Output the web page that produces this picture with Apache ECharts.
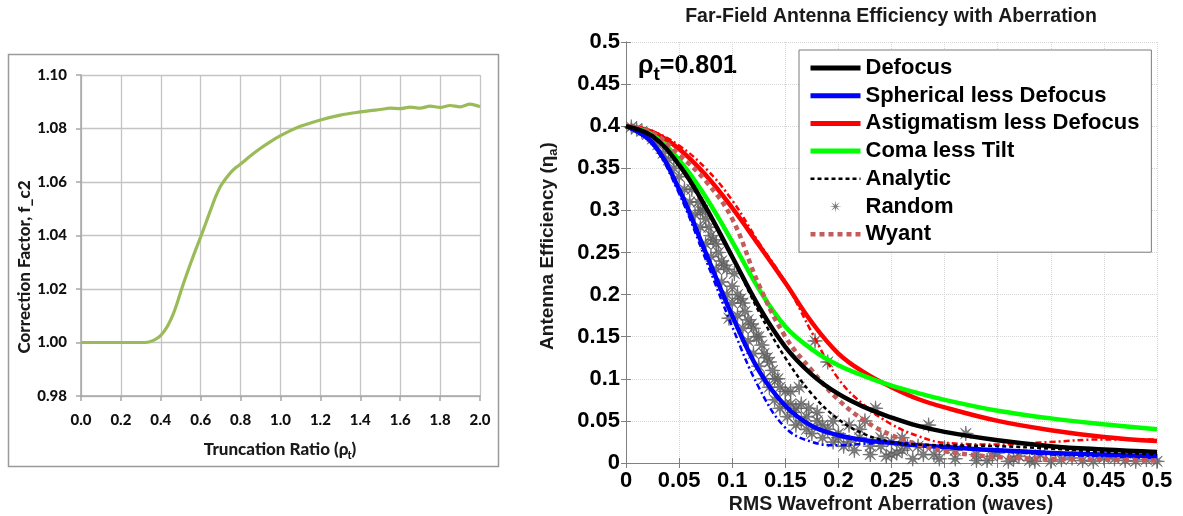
<!DOCTYPE html>
<html><head><meta charset="utf-8">
<script src="https://cdn.jsdelivr.net/npm/echarts@6/dist/echarts.min.js"></script>
<style>html,body{margin:0;padding:0;background:#fff}#c{width:1183px;height:516px}</style>
</head><body><div id="c"></div>
<script>
// ---------- Left panel data ----------
const truncRatio = [0,0.1,0.2,0.3,0.34,0.36,0.38,0.4,0.42,0.44,0.46,0.48,0.5,0.525,0.55,0.575,0.6,0.625,0.65,0.675,0.7,0.725,0.75,0.775,0.8,0.85,0.9,0.95,1.0,1.05,1.1,1.2,1.3,1.4,1.45,1.5,1.55,1.6,1.65,1.7,1.75,1.8,1.85,1.9,1.95,2.0];
const corrFactor = [1.0,1.0,1.0,1.0,1.0002,1.0007,1.0015,1.0027,1.0045,1.007,1.0102,1.0143,1.019,1.0245,1.0297,1.0347,1.0395,1.0445,1.0496,1.0545,1.0585,1.0612,1.0635,1.0653,1.0667,1.0698,1.0726,1.0751,1.0773,1.0792,1.0808,1.0832,1.085,1.0862,1.0867,1.0871,1.0876,1.0874,1.088,1.0876,1.0884,1.0879,1.0886,1.0881,1.0891,1.0881];
const leftXTicks = {min:0, max:2.0, interval:0.2};
const leftYTicks = {min:0.98, max:1.10, interval:0.02};

// ---------- Right panel data ----------
const waves = [0,0.025,0.05,0.075,0.1,0.125,0.15,0.175,0.2,0.225,0.25,0.275,0.3,0.35,0.4,0.45,0.5];
const defocus    = [0.4,0.388,0.354,0.304,0.245,0.186,0.138,0.105,0.082,0.066,0.054,0.044,0.037,0.027,0.02,0.016,0.013];
const spherical  = [0.4,0.38,0.325,0.25,0.175,0.11,0.068,0.044,0.033,0.027,0.024,0.021,0.019,0.015,0.012,0.01,0.008];
const astig      = [0.4,0.393,0.373,0.342,0.303,0.259,0.214,0.167,0.13,0.107,0.09,0.076,0.066,0.05,0.039,0.031,0.026];
const coma       = [0.4,0.39,0.36,0.316,0.263,0.207,0.162,0.135,0.116,0.103,0.092,0.083,0.075,0.062,0.053,0.046,0.04];
const analytic   = [0.4,0.388,0.354,0.304,0.245,0.18,0.125,0.082,0.052,0.034,0.025,0.022,0.021,0.02,0.017,0.013,0.01];
const analyticSph= [0.4,0.378,0.32,0.242,0.162,0.09,0.042,0.025,0.021,0.023,0.024,0.022,0.019,0.014,0.01,0.008,0.006];
const analyticAst= [0.4,0.394,0.377,0.35,0.312,0.262,0.215,0.155,0.1,0.068,0.046,0.032,0.024,0.022,0.025,0.028,0.028];
const wyant      = [0.4,0.392,0.366,0.335,0.29,0.212,0.15,0.11,0.075,0.05,0.033,0.022,0.014,0.007,0.005,0.004,0.003];
const randomX = [0.005,0.01,0.015,0.02,0.025,0.03,0.035,0.04,0.045,0.05,0.055,0.06,0.062,0.065,0.068,0.07,0.072,0.075,0.078,0.08,0.082,0.085,0.087,0.09,0.092,0.095,0.097,0.1,0.102,0.105,0.108,0.11,0.112,0.115,0.118,0.12,0.123,0.125,0.128,0.13,0.133,0.135,0.138,0.14,0.143,0.145,0.15,0.152,0.155,0.158,0.16,0.163,0.165,0.17,0.172,0.175,0.178,0.18,0.185,0.19,0.19,0.195,0.2,0.205,0.21,0.215,0.22,0.225,0.23,0.235,0.24,0.245,0.25,0.255,0.26,0.27,0.275,0.285,0.29,0.3,0.31,0.32,0.33,0.34,0.35,0.36,0.37,0.38,0.39,0.4,0.42,0.44,0.46,0.48,0.5,
  0.07,0.075,0.08,0.085,0.09,0.095,0.1,0.105,0.11,0.115,0.12,0.125,0.13,0.135,0.14,0.145,0.15,0.155,0.16,0.165,0.17,0.18,0.185,0.195,0.2,0.21,0.22,0.23,0.24,0.25,0.26,0.265,0.28,0.295,0.31,0.33,0.345,0.365,0.385,0.41,0.43,0.45,0.47,0.49];
const randomY = [0.399,0.397,0.394,0.39,0.385,0.378,0.368,0.36,0.35,0.34,0.325,0.31,0.325,0.295,0.31,0.28,0.3,0.26,0.28,0.245,0.265,0.23,0.25,0.215,0.235,0.2,0.172,0.19,0.225,0.175,0.195,0.16,0.18,0.145,0.165,0.13,0.15,0.115,0.14,0.1,0.125,0.09,0.11,0.075,0.1,0.065,0.085,0.055,0.07,0.06,0.045,0.09,0.05,0.04,0.065,0.035,0.145,0.05,0.03,0.12,0.04,0.025,0.035,0.02,0.045,0.015,0.03,0.05,0.01,0.065,0.02,0.008,0.025,0.012,0.03,0.005,0.02,0.045,0.01,0.018,0.005,0.035,0.01,0.003,0.012,0.002,0.008,0.003,0.01,0.002,0.006,0.002,0.005,0.002,0.002,
  0.3,0.29,0.27,0.26,0.24,0.23,0.21,0.2,0.19,0.17,0.16,0.15,0.13,0.12,0.1,0.09,0.07,0.085,0.065,0.07,0.055,0.06,0.045,0.05,0.03,0.025,0.04,0.02,0.03,0.01,0.015,0.02,0.01,0.005,0.015,0.003,0.008,0.005,0.002,0.004,0.003,0.006,0.003,0.004];
const rightTicks = {min:0, max:0.5, interval:0.05};

// ---------- helpers ----------
const FR = "'Liberation Sans', Arial, Helvetica, sans-serif";
const FL = "Lato, 'Liberation Sans', sans-serif";
const ctx = document.createElement('canvas').getContext('2d');
function tw(t, s, f){ ctx.font = 'bold ' + s + 'px ' + f; return ctx.measureText(t).width; }
function subLabel(cx, cy, parts, fam, color, rotation, weight){
  const wt = weight || 'bold';
  const total = parts.reduce((a,p)=>a+tw(p.t,p.s,fam),0);
  let x = -total/2; const children = [];
  parts.forEach(p=>{
    children.push({type:'text', x:x, y:p.dy||0, style:{text:p.t, font:wt+' '+p.s+'px '+fam, fill:color, align:'left', verticalAlign:'middle'}});
    x += tw(p.t,p.s,fam);
  });
  return {type:'group', x:cx, y:cy, rotation:rotation||0, children};
}
const pairs = (xs, ys) => xs.map((x,i)=>[x, ys[i]]);
const fmtR = v => String(Math.round(v*100)/100);
const asterisk = 'path://M20 10 L12.4 11 L17.07 17.07 L11 12.4 L10 20 L9 12.4 L2.93 17.07 L7.6 11 L0 10 L7.6 9 L2.93 2.93 L9 7.6 L10 0 L11 7.6 L17.07 2.93 L12.4 9 Z';
const lineItem = (name, w) => ({name:name, itemStyle:{opacity:0}, lineStyle:{width:w}});

const chart = echarts.init(document.getElementById('c'), null, {renderer:'canvas'});
const gray = '#808080';
const option = {
  animation:false,
  backgroundColor:'#fff',
  grid:[
    {left:81, top:75, width:399, height:321},
    {left:626, top:42, width:531, height:421}
  ],
  xAxis:[
    {gridIndex:0, type:'value', min:leftXTicks.min, max:leftXTicks.max, interval:leftXTicks.interval,
     axisLine:{lineStyle:{color:'#a6a6a6', width:1.5}}, axisTick:{show:true, length:5, lineStyle:{color:'#a6a6a6', width:1.5}},
     splitLine:{show:true, lineStyle:{color:'#c4c4c4', width:1.3}},
     axisLabel:{margin:17, fontSize:15, fontWeight:900, fontFamily:FL, color:'#111', formatter:v=>v.toFixed(1)}},
    {gridIndex:1, type:'value', min:rightTicks.min, max:rightTicks.max, interval:rightTicks.interval,
     axisLine:{lineStyle:{color:gray}}, axisTick:{inside:true, length:5, lineStyle:{color:gray}},
     splitLine:{show:true, lineStyle:{color:'#d6d6d6', type:'dotted'}},
     axisLabel:{margin:7, fontSize:22, fontWeight:'bold', fontFamily:FR, color:'#000', formatter:fmtR}},
    {gridIndex:1, type:'value', position:'top', min:rightTicks.min, max:rightTicks.max, interval:rightTicks.interval,
     axisLine:{lineStyle:{color:gray}}, axisTick:{inside:true, length:5, lineStyle:{color:gray}},
     splitLine:{show:false}, axisLabel:{show:false}}
  ],
  yAxis:[
    {gridIndex:0, type:'value', min:leftYTicks.min, max:leftYTicks.max, interval:leftYTicks.interval,
     axisLine:{show:true, lineStyle:{color:'#a6a6a6', width:1.5}}, axisTick:{show:true, length:5, lineStyle:{color:'#a6a6a6', width:1.5}},
     splitLine:{show:true, lineStyle:{color:'#c4c4c4', width:1.3}},
     axisLabel:{margin:14, fontSize:15, fontWeight:900, fontFamily:FL, color:'#111', formatter:v=>v.toFixed(2)}},
    {gridIndex:1, type:'value', min:rightTicks.min, max:rightTicks.max, interval:rightTicks.interval,
     axisLine:{show:true, lineStyle:{color:gray}}, axisTick:{show:true, inside:true, length:5, lineStyle:{color:gray}},
     splitLine:{show:true, lineStyle:{color:'#d6d6d6', type:'dotted'}},
     axisLabel:{margin:6, fontSize:22, fontWeight:'bold', fontFamily:FR, color:'#000', formatter:fmtR}},
    {gridIndex:1, type:'value', position:'right', min:rightTicks.min, max:rightTicks.max, interval:rightTicks.interval,
     axisLine:{show:true, lineStyle:{color:gray}}, axisTick:{show:true, inside:true, length:5, lineStyle:{color:gray}},
     splitLine:{show:false}, axisLabel:{show:false}}
  ],
  legend:{
    orient:'vertical', left:799, top:50, padding:[7,12,7,9],
    itemWidth:50, itemHeight:12, itemGap:5.7, symbolKeepAspect:true,
    borderColor:'#7a7a7a', borderWidth:1, backgroundColor:'#fff',
    textStyle:{fontSize:22, fontWeight:'bold', fontFamily:FR, color:'#000', lineHeight:22},
    data:[
      lineItem('Defocus', 5),
      lineItem('Spherical less Defocus', 5),
      lineItem('Astigmatism less Defocus', 5),
      lineItem('Coma less Tilt', 5),
      lineItem('Analytic', 2.5),
      {name:'Random', itemStyle:{borderWidth:0}},
      lineItem('Wyant', 4.5)
    ]
  },
  series:[
    {name:'f_c2', type:'line', xAxisIndex:0, yAxisIndex:0, data:pairs(truncRatio, corrFactor), symbol:'none', smooth:0.3,
     lineStyle:{color:'#9bbb59', width:3.2}},
    {name:'Random', type:'scatter', xAxisIndex:1, yAxisIndex:1, data:pairs(randomX, randomY), symbol:asterisk, symbolSize:15, symbolKeepAspect:true,
     itemStyle:{color:'#5e5e5e', borderColor:'#5e5e5e', borderWidth:0.8}, z:1},
    {name:'Analytic Spherical', type:'line', xAxisIndex:1, yAxisIndex:1, data:pairs(waves, analyticSph), symbol:'none', smooth:0.4,
     lineStyle:{color:'#0000ff', width:2.5, type:[6,3,2,3]}, z:2},
    {name:'Analytic Astigmatism', type:'line', xAxisIndex:1, yAxisIndex:1, data:pairs(waves, analyticAst), symbol:'none', smooth:0.4,
     lineStyle:{color:'#ff0000', width:2.5, type:[6,3,2,3]}, z:2},
    {name:'Spherical less Defocus', type:'line', xAxisIndex:1, yAxisIndex:1, data:pairs(waves, spherical), symbol:'none', smooth:0.4,
     color:'#0000ff', lineStyle:{color:'#0000ff', width:4.5}, z:3},
    {name:'Astigmatism less Defocus', type:'line', xAxisIndex:1, yAxisIndex:1, data:pairs(waves, astig), symbol:'none', smooth:0.4,
     color:'#ff0000', lineStyle:{color:'#ff0000', width:4.5}, z:3},
    {name:'Coma less Tilt', type:'line', xAxisIndex:1, yAxisIndex:1, data:pairs(waves, coma), symbol:'none', smooth:0.4,
     color:'#00ff00', lineStyle:{color:'#00ff00', width:4.5}, z:3},
    {name:'Wyant', type:'line', xAxisIndex:1, yAxisIndex:1, data:pairs(waves, wyant), symbol:'none', smooth:0.4,
     color:'#c45c5c', lineStyle:{color:'#c45c5c', width:4.5, type:[5,4]}, z:3},
    {name:'Defocus', type:'line', xAxisIndex:1, yAxisIndex:1, data:pairs(waves, defocus), symbol:'none', smooth:0.4,
     color:'#000', lineStyle:{color:'#000', width:4.5}, z:4},
    {name:'Analytic', type:'line', xAxisIndex:1, yAxisIndex:1, data:pairs(waves, analytic), symbol:'none', smooth:0.4,
     color:'#000', lineStyle:{color:'#000', width:2.5, type:[4,3]}, z:5}
  ],
  graphic:[
    {type:'rect', shape:{x:8.5, y:54.5, width:490, height:412}, style:{fill:'none', stroke:'#9a9a9a', lineWidth:1.5}, silent:true},
    {type:'text', x:25, y:267, rotation:Math.PI/2, style:{text:'Correction Factor, f_c2', font:'900 17px '+FL, fill:'#1a1a1a', align:'center', verticalAlign:'middle'}},
    subLabel(280, 450, [{t:'Truncation Ratio (ρ', s:17},{t:'t', s:11, dy:5},{t:')', s:17}], FL, '#1a1a1a', 0, '900'),
    {type:'text', x:891, y:17, style:{text:'Far-Field Antenna Efficiency with Aberration', font:'bold 19.5px '+FR, fill:'#1a1a1a', align:'center', verticalAlign:'middle'}},
    subLabel(891, 505, [{t:'RMS Wavefront Aberration (waves)', s:19.5}], FR, '#1a1a1a'),
    subLabel(548, 246, [{t:'Antenna Efficiency (η', s:19},{t:'a', s:13, dy:5},{t:')', s:19}], FR, '#1a1a1a', Math.PI/2),
    (function(){ const g = subLabel(0,0,[{t:'ρ', s:25},{t:'t', s:19, dy:9},{t:'=0.801', s:25}], FR, '#000');
      const w = tw('ρ',25,FR)+tw('t',19,FR)+tw('=0.801',25,FR); g.x = 638 + w/2; g.y = 66; return g; })()
  ]
};
chart.setOption(option);
</script></body></html>
